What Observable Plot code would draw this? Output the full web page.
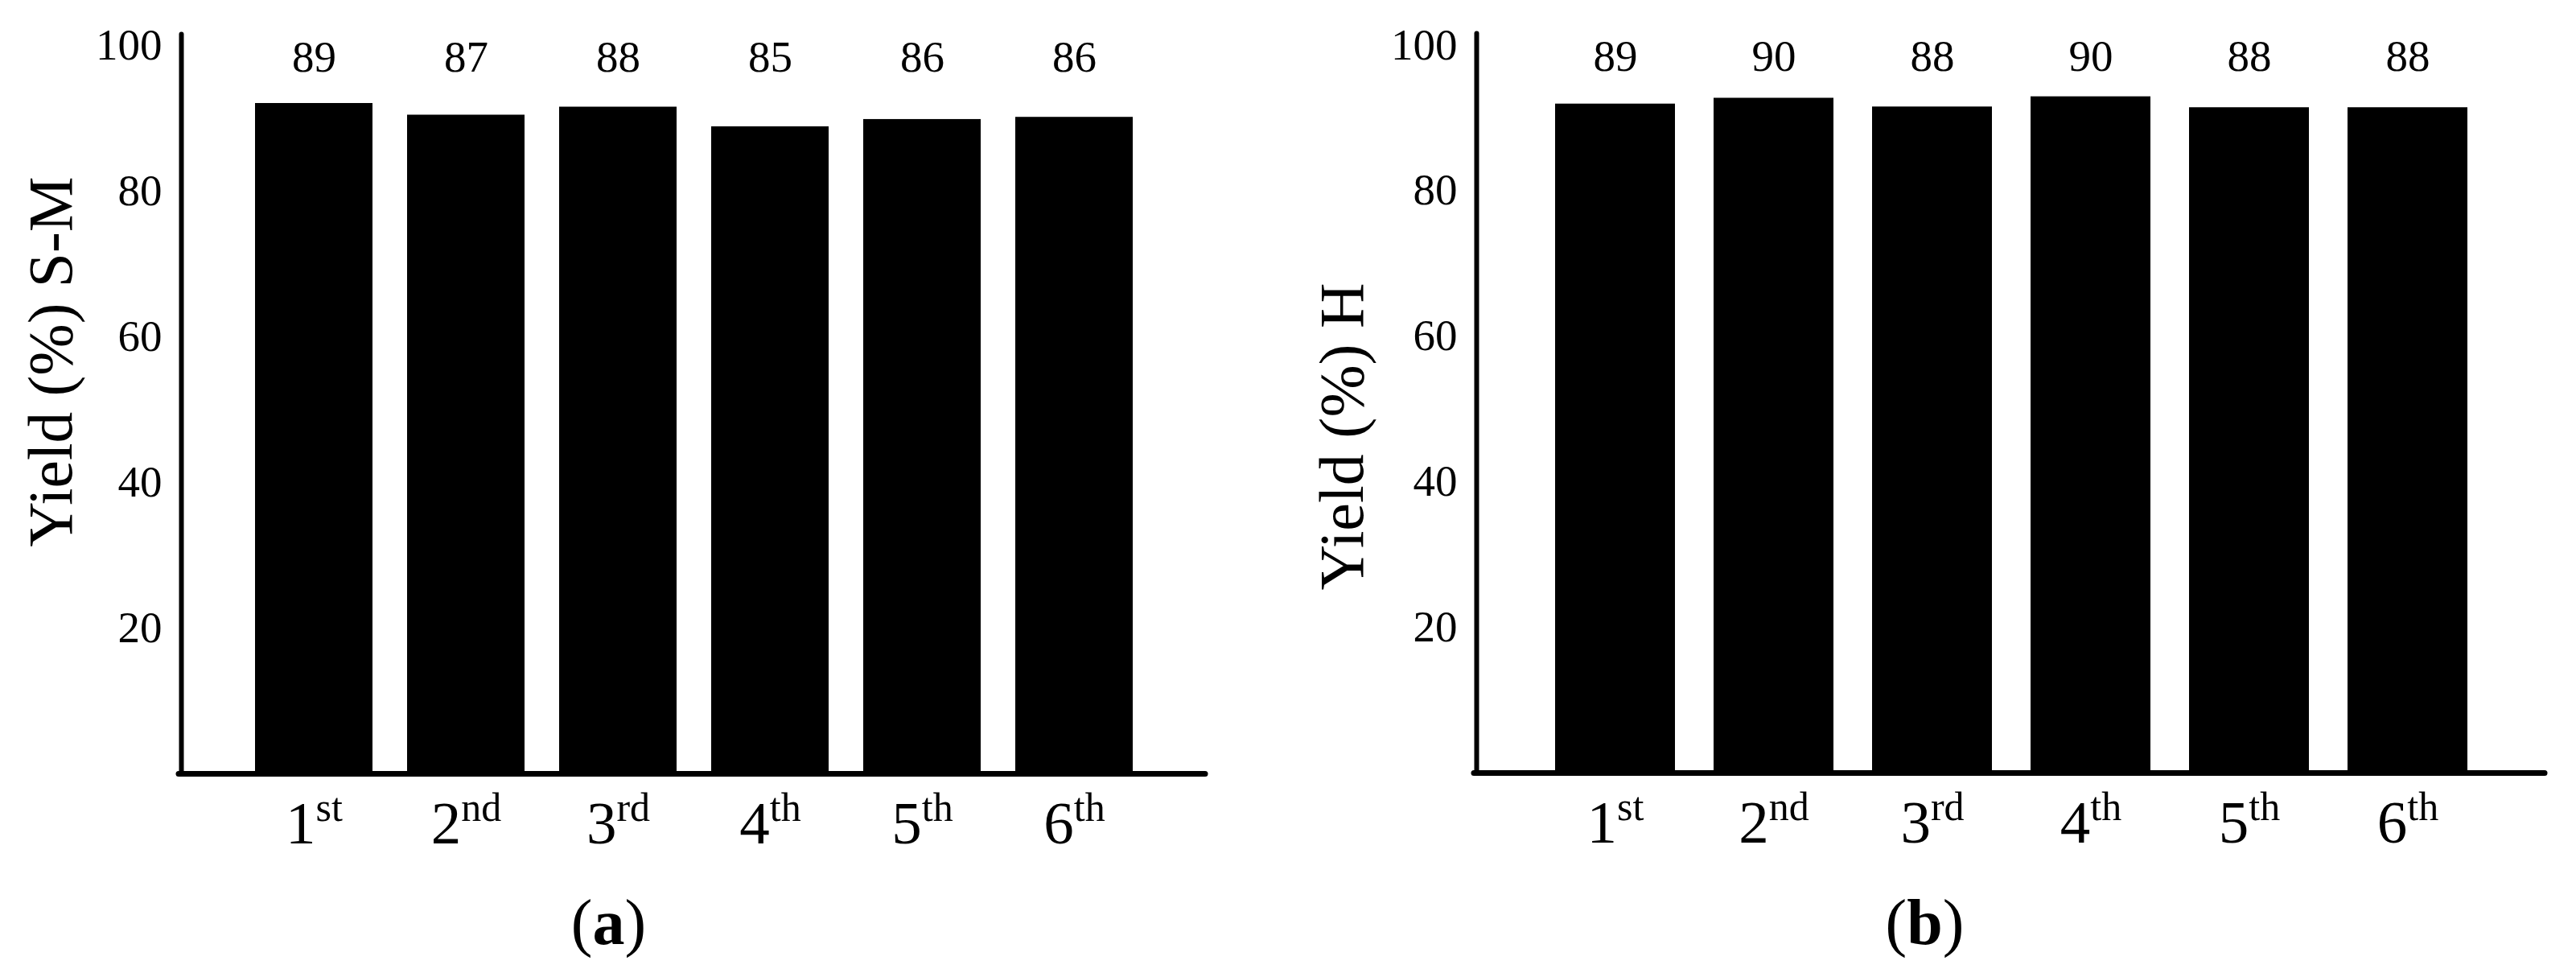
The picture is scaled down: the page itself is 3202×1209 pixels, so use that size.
<!DOCTYPE html>
<html><head><meta charset="utf-8">
<script src="https://cdn.jsdelivr.net/npm/d3@7"></script>
<script src="https://cdn.jsdelivr.net/npm/@observablehq/plot@0.6"></script>
<style>
html,body{margin:0;padding:0;background:#fff;}
#wrap{display:flex;width:3202px;height:1209px;}
#wrap svg{display:block;flex:none;}
</style></head><body><div id="wrap"></div>
<script>
// Categories (x tick labels)
const rounds = ["1st", "2nd", "3rd", "4th", "5th", "6th"];
// Panel (a): printed value labels and bar heights as drawn
const yieldLabelsSM = [89, 87, 88, 85, 86, 86];
const barHeightsSM = [92.0, 90.4, 91.5, 88.8, 89.8, 90.1];
// Panel (b): printed value labels and bar heights as drawn
const yieldLabelsH = [89, 90, 88, 90, 88, 88];
const barHeightsH = [91.9, 92.7, 91.5, 92.9, 91.4, 91.4];
// Y tick labels
const yTicks = [20, 40, 60, 80, 100];
const titleSM = "Yield (%) S-M";
const titleH = "Yield (%) H";
const captionA = "(a)";
const captionB = "(b)";

const FONT = "'Liberation Serif', 'Times New Roman', serif";

function panel(cfg) {
  const data = rounds.map((r, i) => ({round: r, bar: cfg.bars[i], label: cfg.labels[i]}));
  const W = 1601, H = 1209;
  const mb = H - cfg.bottom;
  const plot = Plot.plot({
    width: W, height: H,
    marginLeft: cfg.ml, marginRight: cfg.mr, marginTop: cfg.mt, marginBottom: mb,
    style: {fontFamily: FONT, color: "black", background: "white", overflow: "visible"},
    x: {type: "band", domain: rounds, range: cfg.xRange, paddingInner: cfg.pad, paddingOuter: 0, axis: null},
    y: {domain: [0, cfg.ymax], axis: null},
    marks: [
      Plot.barY(data, {x: "round", y: "bar", fill: "black"}),
      Plot.ruleY([0], {stroke: "black", strokeWidth: 7, insetLeft: -3, strokeLinecap: "round"}),
      Plot.frame({anchor: "left", stroke: "black", strokeWidth: 6, strokeLinecap: "round"}),
      Plot.axisY({ticks: yTicks, tickSize: 0, tickPadding: 24, label: null, fontSize: 55}),
      Plot.text(data, {x: "round", text: d => String(d.label), frameAnchor: "top", lineAnchor: "bottom", dy: 46, fontSize: 55}),
      Plot.text(data, {x: "round", text: "round", frameAnchor: "bottom", lineAnchor: "bottom", dy: 86, fontSize: 75}),
      Plot.text([cfg.title], {text: d => d, frameAnchor: "left", rotate: -90, lineAnchor: "bottom", textAnchor: "middle",
        dx: cfg.titleX - cfg.ml, dy: cfg.titleY - (cfg.mt + cfg.bottom) / 2, fontSize: 78}),
      Plot.text([cfg.caption], {text: d => d, frameAnchor: "bottom", lineAnchor: "bottom",
        dx: cfg.capX - (cfg.ml + W - cfg.mr) / 2, dy: 1172 - cfg.bottom, fontSize: 80})
    ]
  });
  d3.select(plot).selectAll("text").each(function () {
    const t = this.textContent;
    if (t === cfg.title) {
      this.setAttribute("textLength", cfg.titleLen);
      this.setAttribute("lengthAdjust", "spacingAndGlyphs");
      return;
    }
    const m = /^(\d)(st|nd|rd|th)$/.exec(t);
    if (m) {
      const s = d3.select(this);
      s.text("");
      s.append("tspan").text(m[1]);
      s.append("tspan").attr("dy", -28).attr("font-size", 50).text(m[2]);
      return;
    }
    const c = /^\((\w)\)$/.exec(t);
    if (c) {
      const s = d3.select(this);
      s.text("");
      s.append("tspan").text("(");
      s.append("tspan").attr("font-weight", "bold").text(c[1]);
      s.append("tspan").text(")");
    }
  });
  return plot;
}

const wrap = document.getElementById("wrap");
wrap.appendChild(panel({
  bars: barHeightsSM, labels: yieldLabelsSM, title: titleSM, caption: captionA,
  ml: 225, mr: 103, mt: 42, bottom: 961, ymax: 101.5,
  xRange: [316, 1409], pad: 0.23, titleX: 88, titleY: 449, titleLen: 460, capX: 756
}));
wrap.appendChild(panel({
  bars: barHeightsH, labels: yieldLabelsH, title: titleH, caption: captionB,
  ml: 234, mr: 39, mt: 41, bottom: 960, ymax: 101.6,
  xRange: [329, 1469], pad: 0.242, titleX: 92, titleY: 542, titleLen: 382, capX: 791
}));
</script>
</body></html>
